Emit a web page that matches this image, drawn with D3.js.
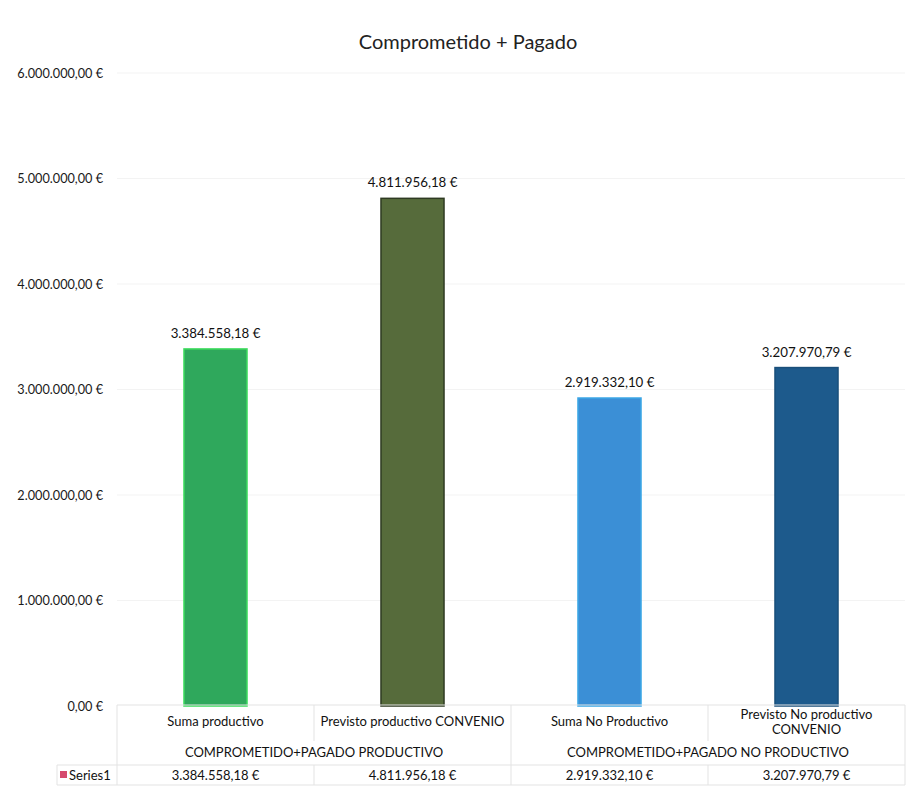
<!DOCTYPE html>
<html>
<head>
<meta charset="utf-8">
<script src="https://cdn.jsdelivr.net/npm/d3@7"></script>
<style>
  body { margin: 0; background: #fff; }
  svg { display: block; font-family: Lato, "Open Sans", sans-serif; }
</style>
</head>
<body>
<div id="chart"></div>
<script>
'use strict';

// categories (two-line labels split with |) and their groups
var categories = ['Suma productivo', 'Previsto productivo CONVENIO', 'Suma No Productivo', 'Previsto No productivo|CONVENIO'];
var groups = ['COMPROMETIDO+PAGADO PRODUCTIVO', 'COMPROMETIDO+PAGADO NO PRODUCTIVO'];
var groupOf = [0, 0, 1, 1];
var seriesName = 'Series1';
var values = [3384558.18, 4811956.18, 2919332.10, 3207970.79];
var barColors = ['#2fa85c', '#566b3b', '#3b8fd6', '#1d5a8c'];
var barStrokes = ['#3ddc5e', '#2e3a22', '#3aa6e6', '#1a4f7a'];
var yTicks = [0, 1000000, 2000000, 3000000, 4000000, 5000000, 6000000];

var width = 909,
	height = 787;

// spanish number format: 1.234,56 €
var es = d3.formatLocale({ decimal: ',', thousands: '.', grouping: [3], currency: ['', '\u202f€'] });
var money = es.format('$,.2f');

var svg = d3.select('#chart').append('svg')
	.attr('width', width)
	.attr('height', height);

var x = d3.scaleBand()
	.domain(categories)
	.range([117, 905])
	.paddingInner(0.68)
	.paddingOuter(0.34);

var y = d3.scaleLinear()
	.domain([0, 6000000])
	.range([706, 73]);

// title
svg.append('text')
	.attr('x', 468)
	.attr('y', 49)
	.attr('text-anchor', 'middle')
	.attr('font-size', 20)
	.attr('fill', '#222')
	.text('Comprometido + Pagado');

// faint gridlines
svg.append('g')
	.selectAll('line')
	.data(yTicks.slice(1))
	.join('line')
	.attr('x1', 117).attr('x2', 905)
	.attr('y1', function (d) { return y(d); })
	.attr('y2', function (d) { return y(d); })
	.attr('stroke', '#f3f3f3');

// y axis, labels only
var axisY = svg.append('g')
	.attr('transform', 'translate(106,0)')
	.call(d3.axisLeft(y).tickValues(yTicks).tickSize(0).tickFormat(money));
axisY.select('.domain').remove();
axisY.selectAll('text')
	.attr('font-family', 'Lato, "Open Sans", sans-serif')
	.attr('font-size', 12.7)
	.attr('fill', '#1a1a1a');

// bars
svg.append('g')
	.selectAll('rect')
	.data(values)
	.join('rect')
	.attr('x', function (d, i) { return x(categories[i]); })
	.attr('y', function (d) { return y(d); })
	.attr('width', x.bandwidth())
	.attr('height', function (d) { return y(0) - y(d); })
	.attr('fill', function (d, i) { return barColors[i]; })
	.attr('stroke', function (d, i) { return barStrokes[i]; })
	.attr('stroke-width', 1.5);

// data labels above bars
svg.append('g')
	.selectAll('text')
	.data(values)
	.join('text')
	.attr('x', function (d, i) { return x(categories[i]) + x.bandwidth() / 2; })
	.attr('y', function (d) { return y(d) - 11; })
	.attr('text-anchor', 'middle')
	.attr('font-size', 13.3)
	.attr('fill', '#111')
	.text(function (d) { return money(d); });

// data table under the axis
var table = svg.append('g').attr('stroke', '#e3e3e3').attr('stroke-width', 1);
var left = 117,
	right = 905,
	rowTop = 705,
	groupTop = 741,
	seriesTop = 765,
	bottom = 785;

table.append('line').attr('x1', left).attr('x2', right).attr('y1', rowTop).attr('y2', rowTop);
table.append('line').attr('x1', 57).attr('x2', right).attr('y1', seriesTop).attr('y2', seriesTop);
table.append('line').attr('x1', 57).attr('x2', right).attr('y1', bottom).attr('y2', bottom);
table.append('line').attr('x1', left).attr('x2', left).attr('y1', rowTop).attr('y2', bottom);
table.append('line').attr('x1', 57).attr('x2', 57).attr('y1', seriesTop).attr('y2', bottom);
table.append('line').attr('x1', right).attr('x2', right).attr('y1', rowTop).attr('y2', bottom);

// column dividers: group boundary spans full height, others skip group row
categories.slice(1).forEach(function (c, i) {
	var cx = x(c) - x.step() * x.paddingInner() / 2;
	var fullSpan = groupOf[i] !== groupOf[i + 1];
	if (fullSpan) {
		table.append('line').attr('x1', cx).attr('x2', cx).attr('y1', rowTop).attr('y2', bottom);
	} else {
		table.append('line').attr('x1', cx).attr('x2', cx).attr('y1', rowTop).attr('y2', groupTop);
		table.append('line').attr('x1', cx).attr('x2', cx).attr('y1', seriesTop).attr('y2', bottom);
	}
});

var labels = svg.append('g').attr('font-size', 13).attr('fill', '#111').attr('text-anchor', 'middle');

// category names
categories.forEach(function (c) {
	var parts = c.split('|');
	var cx = x(c) + x.bandwidth() / 2;
	var t = labels.append('text')
		.attr('x', cx)
		.attr('y', parts.length > 1 ? 719 : 726);
	parts.forEach(function (p, j) {
		t.append('tspan').attr('x', cx).attr('dy', j === 0 ? 0 : 15).text(p);
	});
});

// group names
groups.forEach(function (g, gi) {
	var members = categories.filter(function (c, i) { return groupOf[i] === gi; });
	var x0 = x(members[0]) - x.step() * x.paddingInner() / 2;
	var x1 = x(members[members.length - 1]) + x.bandwidth() + x.step() * x.paddingInner() / 2;
	labels.append('text')
		.attr('x', (x0 + x1) / 2)
		.attr('y', 757)
		.text(g);
});

// series row values
values.forEach(function (v, i) {
	labels.append('text')
		.attr('x', x(categories[i]) + x.bandwidth() / 2)
		.attr('y', 780)
		.text(money(v));
});

// legend key + series name
svg.append('rect')
	.attr('x', 60).attr('y', 771)
	.attr('width', 7).attr('height', 7)
	.attr('fill', '#d64a6c');
svg.append('text')
	.attr('x', 69).attr('y', 780)
	.attr('font-size', 13)
	.attr('fill', '#111')
	.text(seriesName);
</script>
</body>
</html>
